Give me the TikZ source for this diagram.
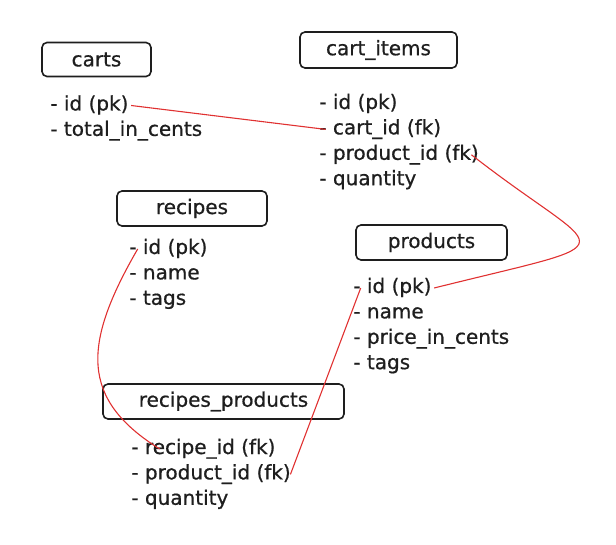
\documentclass[tikz,border=0pt]{standalone}
\usepackage{fontspec}
\setmainfont{DejaVu Sans}
\newfontfamily\inkfont{DejaVu Sans}[FakeBold=0.7]
\usetikzlibrary{positioning}
\definecolor{linkred}{HTML}{E03131}
\definecolor{ink}{HTML}{1E1E1E}

\begin{document}
\begin{tikzpicture}[x=1pt, y=1pt,
    font=\inkfont\fontsize{20}{24}\selectfont, text=ink,
    table/.style={draw=ink, rectangle, rounded corners=5pt, line width=1.6pt, minimum height=35pt, inner sep=0pt},
    field/.style={inner sep=2.5pt, text height=15pt, text depth=5pt},
    link/.style={draw=linkred, line width=1.1pt}]
    \useasboundingbox (0,0) rectangle (616,-545);

    \node[table, minimum width=109pt, minimum height=34pt] (1) at (96.5,-59.5) {carts};
    \node[field] (11) [below right=15.5pt and 6.5pt of 1.south west] {- id (pk)};
    \node[field] (12) [below right=0pt and 0pt of 11.south west] {- total\_in\_cents};

    \node[table, minimum width=157pt, minimum height=36pt] (2) at (378.5,-50) {cart\_items};
    \node[field] (21) [below right=22.5pt and 17.5pt of 2.south west] {- id (pk)};
    \node[field] (22) [below right=0pt and 0pt of 21.south west] {- cart\_id (fk)};
    \node[field] (23) [below right=0pt and 0pt of 22.south west] {- product\_id (fk)};
    \node[field] (24) [below right=0pt and 0pt of 23.south west] {- quantity};

    \node[table, minimum width=150pt] (3) at (192,-208.5) {recipes};
    \node[field] (31) [below right=9.5pt and 10.5pt of 3.south west] {- id (pk)};
    \node[field] (32) [below right=0pt and 0pt of 31.south west] {- name};
    \node[field] (33) [below right=0pt and 0pt of 32.south west] {- tags};

    \node[table, minimum width=151pt] (4) at (431.5,-242.5) {products};
    \node[field] (41) [below right=14.5pt and -4.5pt of 4.south west] {- id (pk)};
    \node[field] (42) [below right=0pt and 0pt of 41.south west] {- name};
    \node[field] (43) [below right=0pt and 0pt of 42.south west] {- price\_in\_cents};
    \node[field] (44) [below right=0pt and 0pt of 43.south west] {- tags};

    \node[table, minimum width=241pt] (5) at (223.5,-401.5) {recipes\_products};
    \node[field] (51) [below right=16.5pt and 26.5pt of 5.south west] {- recipe\_id (fk)};
    \node[field] (52) [below right=0pt and 0pt of 51.south west] {- product\_id (fk)};
    \node[field] (53) [below right=0pt and 0pt of 52.south west] {- quantity};

    \draw[link] (11.east) -- ([xshift=9pt]22.west);
    \draw[link] ([xshift=-10pt]23.east) .. controls +(-38:170) and +(14:210) .. (41.east);
    \draw[link] ([xshift=11pt]31.west) .. controls +(-55,-95) and +(-80,50) .. ([xshift=31pt]51.west);
    \draw[link] ([xshift=10pt]41.west) -- ([xshift=-3pt]52.east);
\end{tikzpicture}
\end{document}
